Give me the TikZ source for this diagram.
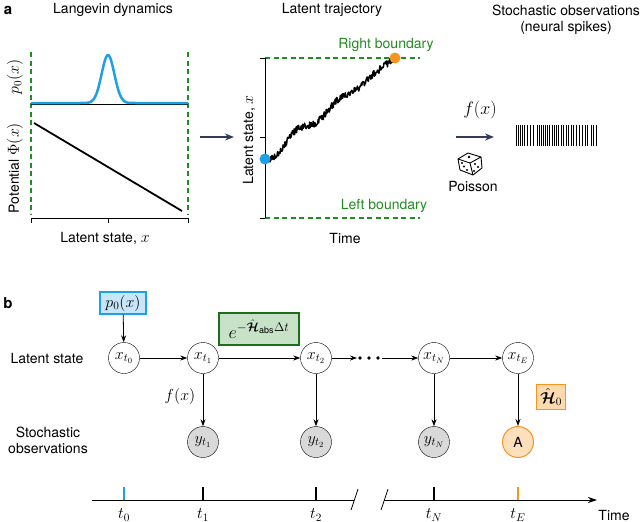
\RequirePackage{fix-cm}
\documentclass[tikz,border=0pt]{standalone}
\usepackage{amsmath,bm}
\usepackage{fontspec}
\setmainfont{TeX Gyre Heros}
\usetikzlibrary{arrows.meta}
\definecolor{gr}{RGB}{34,139,34}
\definecolor{bl}{RGB}{30,160,230}
\definecolor{og}{RGB}{247,148,29}
\definecolor{nv}{RGB}{50,60,90}
\begin{document}
\begin{tikzpicture}[x=1pt,y=-1pt,font=\fontsize{14}{16}\selectfont,
  gdash/.style={gr,dashed,line width=1.2pt,dash pattern=on 5pt off 3.5pt},
  bigarr/.style={nv,line width=1.5pt,-{Stealth[length=9pt,width=7pt]}},
  arr/.style={black,line width=0.8pt,-{Stealth[length=7pt,width=5pt]}},
  mfont/.style={font=\fontsize{16}{18}\selectfont},
  xnode/.style={circle,draw,minimum size=31pt,inner sep=0pt,fill=white,mfont},
  ynode/.style={circle,draw,minimum size=31pt,inner sep=0pt,fill=black!15,mfont},
  tick/.style={line width=2pt}]
\useasboundingbox (0,0) rectangle (640,522);
% ---------- panel a ----------
\node[font=\fontsize{15}{17}\selectfont\bfseries] (la) at (8,10) {a};
\node (t1) at (113,10) {Langevin dynamics};
\node (t2) at (332,10) {Latent trajectory};
\node (t3) at (566,10) {Stochastic observations};
\node (t4) at (566,28) {(neural spikes)};
% left plot
\draw[gdash] (31,52) -- (31,215);
\draw[gdash] (188,52) -- (188,215);
\draw[line width=1pt] (31,104) -- (188,104);
\draw[bl,line width=2.5pt] plot[domain=31:188,samples=120] (\x,{103-48*exp(-((\x-108)/9)^2)});
\draw[line width=1.8pt] (34,123) -- (182,211);
\draw[line width=0.8pt] (31,218) -- (188,218);
\foreach \t in {31,108,188} \draw[line width=0.8pt] (\t,218) -- (\t,223);
\node (xl) at (105,238) {Latent state, {\fontsize{16}{18}\selectfont$x$}};
\node[rotate=90] (pl) at (15,168) {Potential {\fontsize{16}{18}\selectfont$\Phi(x)$}};
\node[rotate=90,mfont] (p0l) at (15,77) {$p_0(x)$};
\draw[bigarr] (200,137) -- (234,137);
% middle plot
\draw[gdash] (265,58) -- (420,58);
\draw[gdash] (265,218) -- (420,218);
\draw[line width=0.8pt] (265,58) -- (265,218);
\foreach \t in {58,137,218} \draw[line width=0.8pt] (265,\t) -- (260,\t);
\node[gr] (rb) at (386,45) {Right boundary};
\node[gr] (lb) at (384,206) {Left boundary};
\node (tl) at (345,238) {Time};
\node[rotate=90] (ll) at (249,140) {Latent state, {\fontsize{16}{18}\selectfont$x$}};
\pgfmathsetseed{11}
\draw[line width=1.5pt,line join=round] plot[domain=0:1,samples=260]
  ({265+130*\x},{159-101*\x+6*sin(1100*\x)*(1-\x)+3.5*rand});
\fill[bl] (265,159) circle (5.5);
\fill[og] (395,58) circle (5.5);
% right
\node[font=\fontsize{18}{20}\selectfont] (fx) at (480,110) {$f(x)$};
\draw[bigarr] (456,137) -- (494,137);
\begin{scope}[shift={(470,163)},line width=0.9pt,line join=round]
 \draw (-12,-4) -- (-2,-10) -- (11,-6) -- (12,5) -- (3,12) -- (-10,7) -- cycle;
 \draw (-12,-4) -- (0,0) -- (11,-6);
 \draw (0,0) -- (3,12);
 \fill (-1,-6) circle (1.3);
 \fill (-8,0) circle (1.2); \fill (-3,7) circle (1.2); \fill (-6,3.5) circle (1.2);
 \fill (5,1) circle (1.2); \fill (8,4) circle (1.2); \fill (4,8) circle (1.2);
\end{scope}
\node (po) at (473,187) {Poisson};
\foreach \s/\w in {516/1,518/0.6,520/1,522/0.5,524/0.8,527/0.6,530/0.6,533/0.6,537/1,539/0.6,541/0.8,543/0.5,545/1,547/0.6,549/0.8,552/0.6,554/1,556/0.5,558/0.6,561/0.8,563/0.6,566/1,568/0.6,571/0.8,573/0.5,576/0.8,579/0.6,582/1,585/0.6,587/0.6,591/1,593/0.6,596/1}
  \draw[line width=\w pt] (\s,125) -- (\s,146);
% ---------- panel b ----------
\node[font=\fontsize{15}{17}\selectfont\bfseries] (lb2) at (8,303) {b};
\node[draw=bl,line width=1.3pt,fill=bl!25,minimum width=46pt,minimum height=22pt,inner sep=1pt,mfont] (p0) at (123,303) {$p_0(x)$};
\node[draw=gr!80!black,line width=1.5pt,fill=gr!25,minimum width=80pt,minimum height=32pt,inner sep=1pt,font=\fontsize{18}{20}\selectfont] (eh) at (259,329) {$e^{-\hat{\bm{\mathcal{H}}}_{\mathrm{abs}}\Delta t}$};
\node (ls) at (47,358) {Latent state};
\node[align=center] (so) at (48,440) {Stochastic\\observations};
\node[xnode] (x0) at (124,358) {$x_{t_0}$};
\node[xnode] (x1) at (203,358) {$x_{t_1}$};
\node[xnode] (x2) at (316,358) {$x_{t_2}$};
\node[xnode] (xN) at (434,358) {$x_{t_N}$};
\node[xnode] (xE) at (518,358) {$x_{t_E}$};
\node[ynode] (y1) at (203,442) {$y_{t_1}$};
\node[ynode] (y2) at (316,442) {$y_{t_2}$};
\node[ynode] (yN) at (434,442) {$y_{t_N}$};
\node[circle,draw=og,line width=1pt,fill=og!30,minimum size=31pt,inner sep=0pt] (A) at (518,442) {A};
\node[draw=og,line width=1.5pt,fill=og!35,minimum width=29pt,minimum height=25pt,inner sep=1pt,mfont] (H0) at (551,397) {$\hat{\bm{\mathcal{H}}}_0$};
\node[mfont] (fx2) at (180,396) {$f(x)$};
\coordinate (d1) at (357,358);
\coordinate (d2) at (382,358);
\foreach \d in {360,369,378} \fill (\d,358) circle (1.8);
\draw[arr] (p0) -- (x0);
\draw[arr] (x0) -- (x1);
\draw[arr] (x1) -- (x2);
\draw[arr] (x2) -- (d1);
\draw[arr] (d2) -- (xN);
\draw[arr] (xN) -- (xE);
\draw[arr] (x1) -- (y1);
\draw[arr] (x2) -- (y2);
\draw[arr] (xN) -- (yN);
\draw[arr] (xE) -- (A);
% time axis
\coordinate (ta) at (92,500);
\coordinate (tb) at (354,500);
\coordinate (tc) at (384,500);
\coordinate (td) at (597,500);
\draw[line width=0.8pt] (ta) -- (tb);
\draw[line width=0.8pt,-{Stealth[length=9pt,width=6pt]}] (tc) -- (td);
\draw[line width=0.8pt] (351,510) -- (358,489);
\draw[line width=0.8pt] (381,510) -- (388,489);
\draw[tick,bl] (124,500) -- (124,487);
\foreach \t in {203,316,434} \draw[tick] (\t,500) -- (\t,487);
\draw[tick,og] (518,500) -- (518,487);
\node[mfont] (l0) at (124,515) {$t_0$};
\node[mfont] (l1) at (203,515) {$t_1$};
\node[mfont] (l2) at (316,515) {$t_2$};
\node[mfont] (lN) at (434,515) {$t_N$};
\node[mfont] (lE) at (518,515) {$t_E$};
\node (tm) at (614,515) {Time};
\end{tikzpicture}
\end{document}
